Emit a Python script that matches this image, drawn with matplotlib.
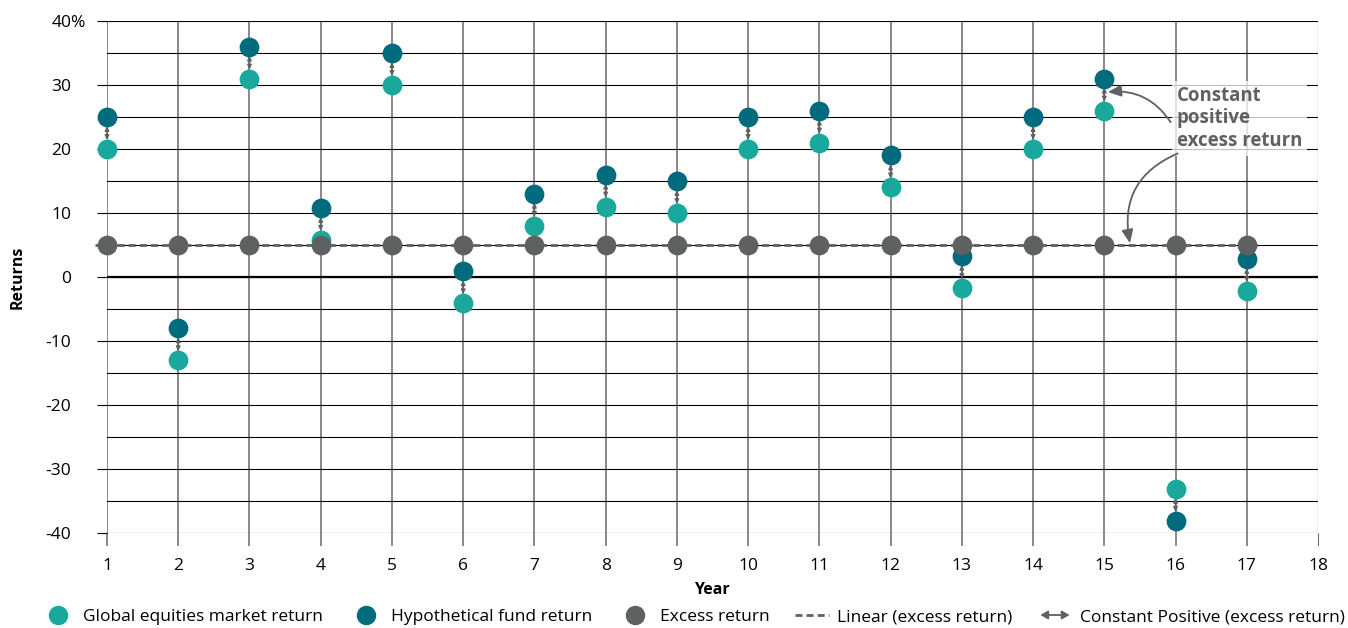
import numpy as np
import matplotlib.pyplot as plt
from matplotlib.lines import Line2D
from matplotlib.patches import FancyArrowPatch
from matplotlib.legend_handler import HandlerBase

plt.rcParams['font.family'] = ['Open Sans', 'DejaVu Sans']

years = np.arange(1, 18)
market = [20, -13, 31, 5.8, 30, -4.1, 8, 11, 10, 20, 21, 14, -1.7, 20, 26, -33.1, -2.2]
fund = [25, -8, 36, 10.8, 35, 0.9, 13, 16, 15, 25, 26, 19, 3.3, 25, 31, -38.1, 2.8]
excess = [5] * 17

c_market = '#1ba89c'
c_fund = '#006b7c'
c_excess = '#5f6062'

fig = plt.figure(figsize=(13.48, 6.28), dpi=100)
ax = fig.add_axes([107 / 1348, 1 - 533 / 628, 1211 / 1348, 512 / 628])

ax.set_xlim(1, 18)
ax.set_ylim(-40, 40)
for s in ax.spines.values():
    s.set_visible(False)

# grid
ax.set_xticks(range(1, 19))
ax.set_yticks(range(-40, 41, 10))
ax.set_yticks(range(-35, 40, 10), minor=True)
ax.set_yticklabels([str(v) for v in range(-40, 41, 10)])
ax.grid(axis='x', color='#707070', lw=1.15, zorder=1)
ax.grid(axis='y', which='both', color='black', lw=0.8, zorder=1)
ax.axhline(0, color='black', lw=1.6, zorder=1.5)
ax.tick_params(axis='x', length=9, width=1.15, color='#707070', labelsize=12.5, pad=9)
ax.tick_params(axis='y', which='major', length=7.2, width=0.8, color='black', labelsize=12.5, pad=18.5)
ax.tick_params(axis='y', which='minor', length=0)
ax.get_xgridlines()[-1].set_color('black')
ax.get_xgridlines()[-1].set_linewidth(0.8)
ax.xaxis.get_major_ticks()[-1].tick1line.set_color('black')
ax.xaxis.get_major_ticks()[-1].tick1line.set_markeredgewidth(0.8)
ax.set_axisbelow(True)

ax.annotate('%', xy=(0, 40), xycoords=('axes fraction', 'data'), xytext=(-26.4, 0),
            textcoords='offset points', ha='left', va='center_baseline', fontsize=12.5)

ax.set_xlabel('Year', fontweight='bold', fontsize=11.5)
ax.xaxis.set_label_coords(0.4996, -0.111)
ax.xaxis.label.set_va('center')
ax.set_ylabel('Returns', fontweight='bold', fontsize=11.5)
ax.yaxis.set_label_coords(-0.0735, 0.5)
ax.yaxis.label.set_va('center')

# linear trend of excess return
k, b = np.polyfit(years, excess, 1)
xt = np.array([0.83, 17.2])
ax.plot(xt, k * xt + b, color=c_excess, lw=2, dashes=(2.5, 1.5), zorder=2.5, clip_on=False)

# arrows between market and fund
for x, m, f in zip(years, market, fund):
    ax.annotate('', xy=(x, f), xytext=(x, m),
                arrowprops=dict(arrowstyle='<|-|>,head_length=0.25,head_width=0.12',
                                color=c_excess, lw=1.1, shrinkA=6.5, shrinkB=6.5),
                zorder=2.7)

ax.scatter(years, market, s=175, color=c_market, zorder=3, clip_on=False)
ax.scatter(years, fund, s=175, color=c_fund, zorder=3, clip_on=False)
ax.scatter(years, excess, s=175, color=c_excess, zorder=4, clip_on=False)

# annotation
ax.text(16.02, 24.8, 'Constant\npositive\nexcess return', fontsize=13.4, fontweight='bold',
        color=c_excess, ha='left', va='center', linespacing=1.18, zorder=5,
        bbox=dict(boxstyle='square,pad=0.25', fc='white', ec='none', alpha=0.75))
ax.annotate('', xy=(15.05, 28.9), xytext=(15.93, 24.2),
            arrowprops=dict(arrowstyle='-|>,head_length=0.8,head_width=0.35', color=c_excess,
                            lw=1.3, connectionstyle='arc3,rad=0.3', shrinkA=0, shrinkB=0), zorder=5)
ax.annotate('', xy=(15.36, 5.3), xytext=(16.03, 19.3),
            arrowprops=dict(arrowstyle='-|>,head_length=0.8,head_width=0.35', color=c_excess,
                            lw=1.3, connectionstyle='arc3,rad=0.4', shrinkA=0, shrinkB=0), zorder=5)


class HandlerDoubleArrow(HandlerBase):
    def create_artists(self, legend, orig_handle, xdescent, ydescent, width, height, fontsize, trans):
        y = height / 2 - ydescent
        a = FancyArrowPatch((-xdescent, y), (-xdescent + width, y),
                            arrowstyle='<|-|>,head_length=0.35,head_width=0.2',
                            color=c_excess, lw=1.3, mutation_scale=fontsize, transform=trans)
        return [a]


handles = [
    Line2D([], [], ls='none', marker='o', ms=13, color=c_market),
    Line2D([], [], ls='none', marker='o', ms=13, color=c_fund),
    Line2D([], [], ls='none', marker='o', ms=13, color=c_excess),
    Line2D([], [], color=c_excess, lw=2, dashes=(2.5, 1.5)),
    'arrow',
]
labels = ['Global equities market return', 'Hypothetical fund return', 'Excess return',
          'Linear (excess return)', 'Constant Positive (excess return)']
fig.legend(handles, labels, loc='center', bbox_to_anchor=(0.514, 1 - 617 / 628), ncol=5,
           frameon=False, fontsize=12.5, handlelength=2.0, columnspacing=1.45, handletextpad=0.45,
           handler_map={str: HandlerDoubleArrow()})

fig.savefig('out.png', dpi=100)
